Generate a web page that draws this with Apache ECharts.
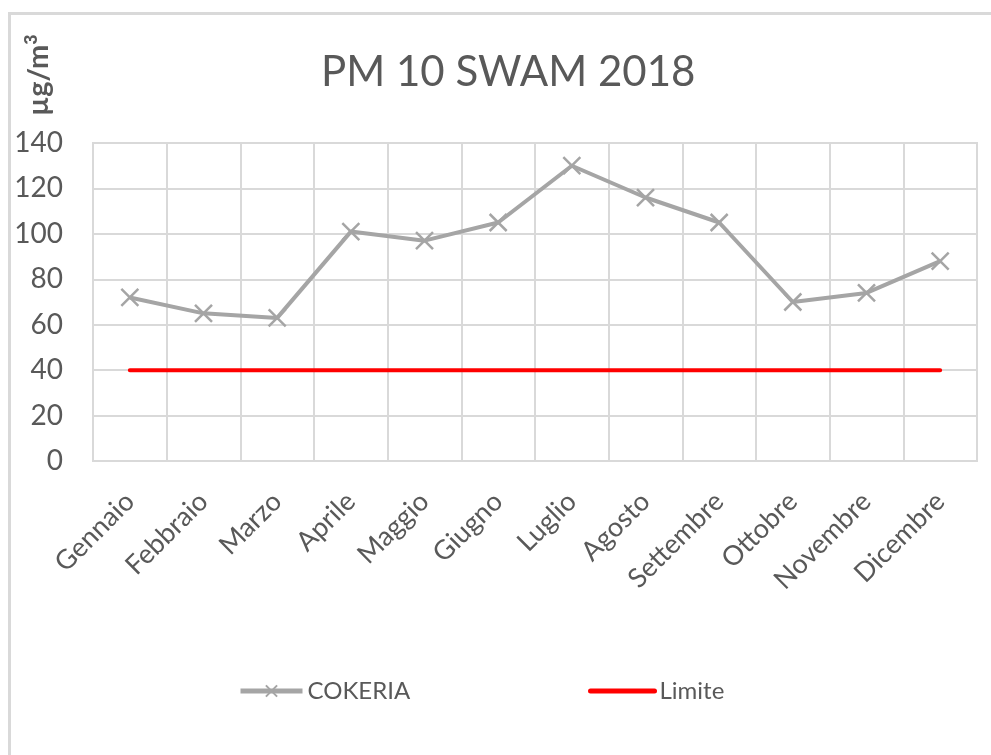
<!DOCTYPE html>
<html>
<head>
<meta charset="utf-8">
<script src="https://cdn.jsdelivr.net/npm/echarts@6/dist/echarts.min.js"></script>
<style>
  html, body { margin: 0; padding: 0; background: #fff; overflow: hidden; }
  #chart { width: 991px; height: 755px; }
</style>
</head>
<body>
<div id="chart"></div>
<script>
// ─── dati ───
const months = ['Gennaio', 'Febbraio', 'Marzo', 'Aprile', 'Maggio', 'Giugno',
  'Luglio', 'Agosto', 'Settembre', 'Ottobre', 'Novembre', 'Dicembre'];
const cokeria = [72, 65, 63, 101, 97, 105, 130, 116, 105, 70, 74, 88];
const limite = [40, 40, 40, 40, 40, 40, 40, 40, 40, 40, 40, 40];
const yTicks = { min: 0, max: 140, interval: 20 };

const FONT = "Lato, 'Open Sans', sans-serif";
const TEXT = '#595959';
const GRID = '#D9D9D9';
const GREY = '#A5A5A5';
const CROSS = 'path://M0,0L10,10M10,0L0,10';

const chart = echarts.init(document.getElementById('chart'), null, { renderer: 'canvas' });

const legendText = { fontFamily: FONT, fontSize: 24, color: TEXT };

chart.setOption({
  backgroundColor: '#ffffff',
  animation: false,
  textStyle: { fontFamily: FONT, color: TEXT },
  title: {
    text: 'PM 10 SWAM 2018',
    left: 316,
    top: 46,
    textStyle: { fontFamily: FONT, fontSize: 42, fontWeight: 'normal', color: TEXT },
  },
  graphic: [
    // cornice del grafico (solo bordo superiore e sinistro sono visibili)
    {
      type: 'polyline',
      shape: { points: [[9.5, 760], [9.5, 13.5], [991, 13.5]] },
      style: { fill: null, stroke: GRID, lineWidth: 3 },
      silent: true,
      z: -1,
    },
    {
      type: 'text',
      x: 23,
      y: 116,
      rotation: Math.PI / 2,
      style: {
        text: 'µg/m{s|3}',
        fontFamily: FONT,
        fontSize: 29,
        fontWeight: 'bold',
        fill: TEXT,
        rich: { s: { fontSize: 18, fontWeight: 'bold', verticalAlign: 'top', padding: [0, 0, 13, 0] } },
      },
    },
  ],
  legend: [
    {
      left: 233,
      top: 674,
      itemWidth: 62,
      itemHeight: 14,
      itemGap: 8,
      lineStyle: { width: 5 },
      textStyle: legendText,
      data: ['COKERIA'],
    },
    {
      left: 583,
      top: 674,
      itemWidth: 64,
      itemHeight: 14,
      itemGap: 8,
      lineStyle: { width: 5 },
      textStyle: legendText,
      data: [{ name: 'Limite', itemStyle: { opacity: 0 } }],
    },
  ],
  grid: {
    left: 93,
    right: 14,
    top: 143,
    bottom: 294,
    show: true,
    borderColor: GRID,
    borderWidth: 2,
  },
  xAxis: {
    type: 'category',
    data: months,
    boundaryGap: true,
    axisLine: { lineStyle: { color: GRID, width: 2 } },
    axisTick: { show: false },
    splitLine: { show: true, lineStyle: { color: GRID, width: 2 } },
    axisLabel: { rotate: 45, fontSize: 27, color: TEXT, fontFamily: FONT, margin: 36, interval: 0 },
  },
  yAxis: {
    type: 'value',
    min: yTicks.min,
    max: yTicks.max,
    interval: yTicks.interval,
    axisLine: { show: false },
    axisTick: { show: false },
    splitLine: { lineStyle: { color: GRID, width: 2 } },
    axisLabel: { fontSize: 28, color: TEXT, fontFamily: FONT, margin: 30 },
  },
  series: [
    {
      name: 'COKERIA',
      type: 'line',
      data: cokeria,
      symbol: CROSS,
      symbolSize: 17,
      showAllSymbol: true,
      lineStyle: { color: GREY, width: 4 },
      itemStyle: { color: GREY, borderColor: GREY, borderWidth: 2.5 },
      z: 3,
    },
    {
      name: 'Limite',
      type: 'line',
      data: limite,
      symbol: 'none',
      lineStyle: { color: '#FF0000', width: 4, cap: 'round' },
      itemStyle: { color: '#FF0000' },
      z: 2,
    },
  ],
});
</script>
</body>
</html>
